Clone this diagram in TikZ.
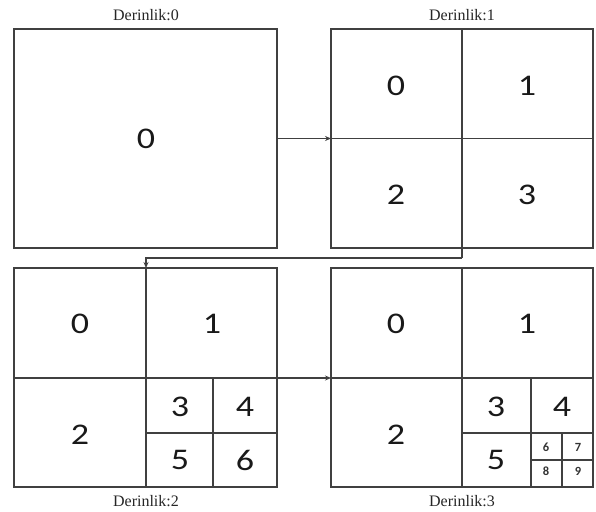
\documentclass[tikz,border=0pt]{standalone}
\usepackage{fontspec}
\setmainfont{Liberation Serif}
\newfontfamily\digitfont{Carlito}
\usetikzlibrary{arrows.meta}
\definecolor{ln}{HTML}{404040}
\tikzset{
  box/.style={draw=ln, line width=1.4pt, inner sep=0pt, rectangle},
  div/.style={draw=ln, line width=1.4pt},
  conn/.style={draw=ln, line width=1.3pt, -{Stealth[length=6pt,width=5pt]}},
  big/.style={font=\digitfont\fontsize{30}{30}\selectfont, text=black!90, inner sep=0pt},
  small/.style={font=\digitfont\bfseries\fontsize{12.5}{12.5}\selectfont, text=black!80, inner sep=0pt},
  caption/.style={font=\fontsize{16}{16}\selectfont, text=black!85, inner sep=0pt}
}
\newcommand{\dg}[1]{\scalebox{1.2}[1]{#1}}
\begin{document}
\begin{tikzpicture}[x=1pt,y=-1pt]
\useasboundingbox (0,0) rectangle (596,511);
% boxes
\node[box, minimum width=263pt, minimum height=219pt] (b0) at (145.5,138.5) {};
\node[box, minimum width=262pt, minimum height=219pt] (b1) at (462,138.5) {};
\node[box, minimum width=263pt, minimum height=219pt] (b2) at (145.5,377.5) {};
\node[box, minimum width=262pt, minimum height=219pt] (b3) at (462,377.5) {};
% captions
\node[caption] (c0) at (146,15) {Derinlik:0};
\node[caption] (c1) at (462,15) {Derinlik:1};
\node[caption] (c2) at (146,501) {Derinlik:2};
\node[caption] (c3) at (462,501) {Derinlik:3};
% box 1 dividers
\coordinate (k1) at (462,258);
\coordinate (k2) at (146,258);
\draw[div] (462,29) -- (462,258);
\draw[div] (b1.west) -- (b1.east);
% box 2 dividers
\draw[div] (146,268) -- (146,487);
\draw[div] (14,378) -- (277,378);
\draw[div] (213,378) -- (213,487);
\draw[div] (146,433) -- (277,433);
% box 3 dividers
\draw[div] (462,268) -- (462,487);
\draw[div] (331,378) -- (593,378);
\draw[div] (531,378) -- (531,487);
\draw[div] (462,433) -- (593,433);
\draw[div] (562,433) -- (562,487);
\draw[div] (531,460) -- (593,460);
% connectors
\coordinate (a0) at (277,138.5);
\coordinate (a1) at (331,138.5);
\draw[conn] (a0) -- (a1);
\coordinate (t2) at (146,268);
\draw[conn] (k1) -- (k2) -- (t2);
\coordinate (a2) at (277,378);
\coordinate (a3) at (331,378);
\draw[conn] (a2) -- (a3);
% digits box 0
\node[big] (n00) at (146,139) {\dg{0}};
% box 1
\node[big] (n10) at (396,86) {\dg{0}};
\node[big] (n11) at (527,86) {\dg{1}};
\node[big] (n12) at (396,195) {\dg{2}};
\node[big] (n13) at (527,195) {\dg{3}};
% box 2
\node[big] (n20) at (80,324) {\dg{0}};
\node[big] (n21) at (212,324) {\dg{1}};
\node[big] (n22) at (80,435) {\dg{2}};
\node[big] (n23) at (180,407) {\dg{3}};
\node[big] (n24) at (245,407) {\dg{4}};
\node[big] (n25) at (180,460) {\dg{5}};
\node[big] (n26) at (245,460) {\dg{6}};
% box 3
\node[big] (n30) at (396,324) {\dg{0}};
\node[big] (n31) at (527,324) {\dg{1}};
\node[big] (n32) at (396,435) {\dg{2}};
\node[big] (n33) at (496,407) {\dg{3}};
\node[big] (n34) at (562,407) {\dg{4}};
\node[big] (n35) at (496,460) {\dg{5}};
\node[small] (n36) at (546,447) {6};
\node[small] (n37) at (578,447) {7};
\node[small] (n38) at (546,471) {8};
\node[small] (n39) at (578,471) {9};
\end{tikzpicture}
\end{document}
